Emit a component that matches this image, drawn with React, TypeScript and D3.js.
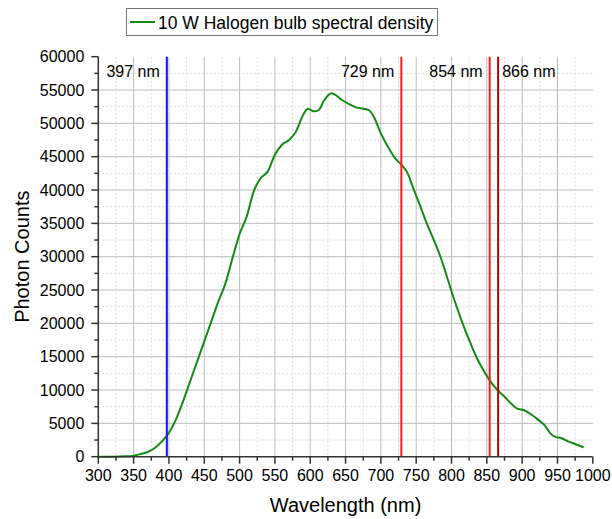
import React from "react";
import * as d3 from "d3";

const wavelengths = [300, 320, 340, 350, 360, 370, 380, 390, 400, 410, 420, 430, 440, 450, 460, 470, 480, 490, 500, 510, 520, 530, 540, 550, 560, 570, 580, 590, 597, 605, 612, 620, 630, 635, 645, 655, 665, 675, 683, 690, 700, 710, 720, 730, 738, 745, 755, 765, 775, 785, 795, 805, 815, 825, 835, 845, 855, 865, 875, 885, 893, 902, 912, 922, 932, 940, 946, 955, 965, 975, 987];
const counts = [0, 0, 50, 150, 400, 700, 1300, 2300, 3600, 5600, 8300, 11300, 14300, 17300, 20300, 23300, 26000, 29800, 33400, 36000, 39800, 41800, 42800, 45300, 46800, 47500, 48800, 51300, 52200, 51800, 52000, 53500, 54500, 54300, 53500, 52900, 52400, 52200, 52000, 51000, 48500, 46500, 44800, 43700, 42500, 40500, 37800, 35000, 32500, 29800, 26500, 23200, 20200, 17500, 15000, 13000, 11300, 10000, 9000, 7900, 7200, 7000, 6400, 5600, 4700, 3500, 3000, 2800, 2300, 1900, 1400];

const markerNm = [397, 729, 854, 866];
const markerLabels = ["397 nm", "729 nm", "854 nm", "866 nm"];
const markerColors = ["#1010ff", "#f01c1c", "#e02424", "#b80000"];
const markerSide = ["left", "left", "left", "right"];

const xTicks = d3.range(300, 1001, 50);
const xMinor = d3.range(300, 1001, 25);
const yTicks = d3.range(0, 60001, 5000);
const yMinor = d3.range(0, 60001, 2500);

const legendLabel = "10 W Halogen bulb spectral density";
const xTitle = "Wavelength (nm)";
const yTitle = "Photon Counts";

export default function App() {
  const W = 612, H = 519;
  const left = 98.3, right = 592.8, top = 56.7, bottom = 456.7;
  const x = d3.scaleLinear().domain([300, 1000]).range([left, right]);
  const y = d3.scaleLinear().domain([0, 60000]).range([bottom, top]);
  const data = wavelengths.map((w, i) => [w, counts[i]] as [number, number]);
  const line = d3.line<[number, number]>().x(d => x(d[0])).y(d => y(d[1])).curve(d3.curveMonotoneX);
  const font = "'Liberation Sans', Arial, sans-serif";

  return (
    <svg width={W} height={H} style={{ position: "absolute", left: 0, top: 0, background: "#fff" }} fontFamily={font}>
      <rect width={W} height={H} fill="#fff" />
      {/* minor grid */}
      {xMinor.filter(v => v % 50 !== 0).map(v => (
        <line key={"xm" + v} x1={x(v)} x2={x(v)} y1={top} y2={bottom} stroke="#dcdcdc" strokeWidth={1} strokeDasharray="2,2" />
      ))}
      {yMinor.filter(v => v % 5000 !== 0).map(v => (
        <line key={"ym" + v} x1={left} x2={right} y1={y(v)} y2={y(v)} stroke="#dcdcdc" strokeWidth={1} strokeDasharray="2,2" />
      ))}
      {/* major grid */}
      {xTicks.filter(v => v > 300 && v < 1000).map(v => (
        <line key={"xg" + v} x1={x(v)} x2={x(v)} y1={top} y2={bottom} stroke="#bdbdbd" strokeWidth={1} />
      ))}
      {yTicks.filter(v => v > 0 && v < 60000).map(v => (
        <line key={"yg" + v} x1={left} x2={right} y1={y(v)} y2={y(v)} stroke="#bdbdbd" strokeWidth={1} />
      ))}
      {/* curve */}
      <path d={line(data) || ""} fill="none" stroke="#168a16" strokeWidth={2} />
      {/* marker lines */}
      {markerNm.map((m, i) => (
        <g key={"mk" + m}>
          <line x1={x(m)} x2={x(m)} y1={top} y2={bottom} stroke={markerColors[i]} strokeWidth={2} />
          <text x={markerSide[i] === "left" ? x(m) - 7 : x(m) + 4} y={77} fontSize={16} textAnchor={markerSide[i] === "left" ? "end" : "start"} fill="#000">{markerLabels[i]}</text>
        </g>
      ))}
      {/* axes */}
      <line x1={left} x2={left} y1={top} y2={bottom + 0.75} stroke="#333" strokeWidth={1.5} />
      <line x1={left - 0.75} x2={right} y1={bottom} y2={bottom} stroke="#333" strokeWidth={1.5} />
      {yTicks.map(v => (
        <g key={"yt" + v}>
          <line x1={left - 7} x2={left} y1={y(v)} y2={y(v)} stroke="#333" strokeWidth={1.5} />
          <text x={left - 14} y={y(v) + 5.5} fontSize={16} textAnchor="end" fill="#000">{v}</text>
        </g>
      ))}
      {yMinor.filter(v => v % 5000 !== 0).map(v => (
        <line key={"ymt" + v} x1={left - 4} x2={left} y1={y(v)} y2={y(v)} stroke="#333" strokeWidth={1.5} />
      ))}
      {xTicks.map(v => (
        <g key={"xt" + v}>
          <line x1={x(v)} x2={x(v)} y1={bottom} y2={bottom + 7} stroke="#333" strokeWidth={1.5} />
          <text x={x(v)} y={bottom + 24} fontSize={16} textAnchor="middle" fill="#000">{v}</text>
        </g>
      ))}
      {xMinor.filter(v => v % 50 !== 0).map(v => (
        <line key={"xmt" + v} x1={x(v)} x2={x(v)} y1={bottom} y2={bottom + 4} stroke="#333" strokeWidth={1.5} />
      ))}
      {/* titles */}
      <text x={(left + right) / 2} y={512} fontSize={20} textAnchor="middle" fill="#000">{xTitle}</text>
      <text transform={`translate(29,${(top + bottom) / 2}) rotate(-90)`} fontSize={20} textAnchor="middle" fill="#000">{yTitle}</text>
      {/* legend */}
      <rect x={126.5} y={8.5} width={311} height={27} fill="#fff" stroke="#777" strokeWidth={1} />
      <line x1={130} x2={155} y1={22} y2={22} stroke="#168a16" strokeWidth={2} />
      <text x={158} y={28.5} fontSize={17.5} fill="#000">{legendLabel}</text>
    </svg>
  );
}
